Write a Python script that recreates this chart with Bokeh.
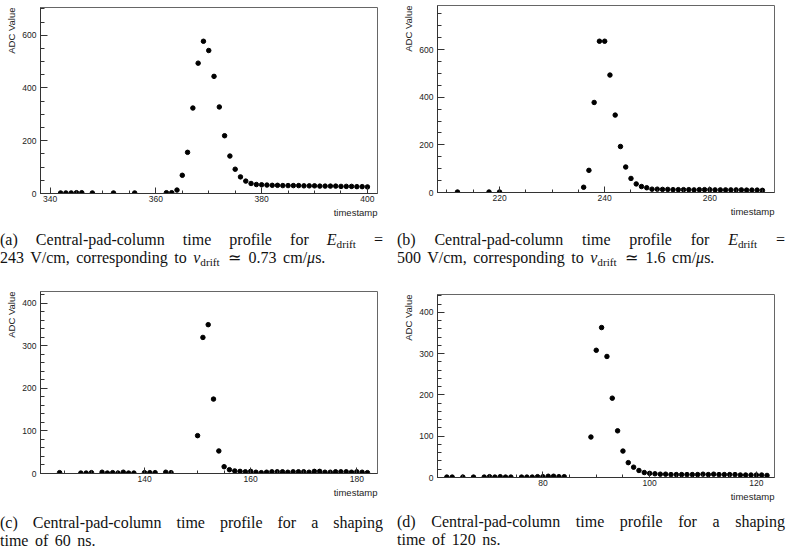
from bokeh.plotting import figure
from bokeh.models import Range1d, SingleIntervalTicker, Div, Title
from bokeh.layouts import column, row
from bokeh.embed import file_html
from bokeh.resources import INLINE

# ---------------- data ----------------
# (a) E_drift = 243 V/cm
a_time = [342, 343, 344, 345, 346, 348, 352, 356, 362, 363, 364, 365, 366, 367, 368,
          369, 370, 371, 372, 373, 374, 375, 376, 377, 378, 379, 380, 381, 382, 383,
          384, 385, 386, 387, 388, 389, 390, 391, 392, 393, 394, 395, 396, 397, 398,
          399, 400]
a_adc = [2, 2, 2, 3, 3, 2, 2, 2, 3, 3, 13, 69, 156, 324, 494,
         577, 542, 444, 328, 219, 142, 92, 63, 47, 38, 34, 33, 32, 31, 31,
         30, 30, 30, 30, 29, 29, 29, 28, 28, 28, 28, 27, 27, 27, 26,
         26, 25]

# (b) E_drift = 500 V/cm
b_time = [212, 218, 220, 236, 237, 238, 239, 240, 241, 242, 243, 244, 245, 246, 247,
          248, 249, 250, 251, 252, 253, 254, 255, 256, 257, 258, 259, 260, 261, 262,
          263, 264, 265, 266, 267, 268, 269, 270]
b_adc = [2, 2, 2, 22, 93, 378, 635, 635, 493, 325, 193, 107, 59, 36, 25,
         20, 14, 14, 13, 13, 12, 12, 12, 12, 11, 12, 12, 12, 11, 11,
         11, 11, 11, 11, 10, 10, 10, 9]

# (c) shaping time 60 ns
c_time = [124, 128, 129, 130, 132, 133, 134, 135, 136, 137, 138, 140, 141, 142, 144,
          145, 150, 151, 152, 153, 154, 155, 156, 157, 158, 159, 160, 161, 162, 163,
          164, 165, 166, 167, 168, 169, 170, 171, 172, 173, 174, 175, 176, 177, 178,
          179, 180, 181, 182]
c_adc = [2, 1, 1, 2, 3, 1, 2, 1, 3, 1, 1, 2, 2, 2, 3,
         2, 89, 320, 350, 175, 53, 16, 9, 6, 5, 4, 5, 3, 2, 3,
         4, 4, 4, 3, 4, 4, 4, 3, 5, 5, 3, 3, 4, 4, 4,
         3, 4, 3, 2]

# (d) shaping time 120 ns
d_time = [62, 63, 65, 67, 69, 70, 71, 72, 73, 74, 76, 77, 78, 79, 80,
          81, 82, 83, 84, 89, 90, 91, 92, 93, 94, 95, 96, 97, 98, 99,
          100, 101, 102, 103, 104, 105, 106, 107, 108, 109, 110, 111, 112, 113, 114,
          115, 116, 117, 118, 119, 120, 121, 122]
d_adc = [1, 1, 1, 1, 1, 2, 1, 2, 1, 1, 1, 1, 1, 2, 2,
         3, 3, 2, 2, 98, 308, 363, 293, 192, 113, 64, 36, 25, 17, 12,
         10, 9, 8, 8, 7, 7, 7, 7, 7, 7, 8, 7, 8, 7, 7,
         7, 7, 6, 6, 6, 6, 6, 5]

x_title = "timestamp"
y_title = "ADC Value"

SIM = "&ensp;&#8771;&ensp;"
cap_a1 = "(a) Central-pad-column time profile for <i>E</i><span class='sb'>drift</span> ="
cap_a2 = "243 V/cm, corresponding to <i>v</i><span class='sb'>drift</span>" + SIM + "0.73 cm/<i>&mu;</i>s."
cap_b1 = "(b) Central-pad-column time profile for <i>E</i><span class='sb'>drift</span> ="
cap_b2 = "500 V/cm, corresponding to <i>v</i><span class='sb'>drift</span>" + SIM + "1.6 cm/<i>&mu;</i>s."
cap_c1 = "(c) Central-pad-column time profile for a shaping"
cap_c2 = "time of 60 ns."
cap_d1 = "(d) Central-pad-column time profile for a shaping"
cap_d2 = "time of 120 ns."

TXT = "#222222"


def make_fig(xs, ys, xr, yr, xint, yint, ynminor, bl, br, bt, bb, fw, fh):
    p = figure(width=bl + fw + br, height=bt + fh + bb,
               x_range=Range1d(*xr), y_range=Range1d(*yr),
               output_backend="svg", toolbar_location=None,
               min_border_left=bl, min_border_right=br,
               min_border_top=bt, min_border_bottom=bb)
    p.xgrid.visible = False
    p.ygrid.visible = False
    p.outline_line_color = "#666666"
    p.outline_line_width = 1
    p.background_fill_color = "white"
    p.border_fill_color = "white"
    p.xaxis.ticker = SingleIntervalTicker(interval=xint, num_minor_ticks=4)
    p.yaxis.ticker = SingleIntervalTicker(interval=yint, num_minor_ticks=ynminor)
    for ax in (p.xaxis[0], p.yaxis[0]):
        ax.axis_line_color = "#333333"
        ax.major_tick_line_color = "#333333"
        ax.minor_tick_line_color = "#333333"
        ax.major_tick_out = 0
        ax.minor_tick_out = 0
        ax.major_label_text_font = "Liberation Sans"
        ax.major_label_text_font_size = "8.5px"
        ax.major_label_text_color = TXT
    p.xaxis.major_tick_in = 6
    p.xaxis.minor_tick_in = 3
    p.yaxis.major_tick_in = 7
    p.yaxis.minor_tick_in = 4
    p.xaxis.major_label_standoff = 2
    p.yaxis.major_label_standoff = 4
    p.scatter(xs, ys, size=4.5, color="black", marker="circle")

    # ROOT-style axis titles at the far ends of the axes
    p.add_layout(Title(text=x_title, align="right", standoff=0, offset=0,
                       text_font="Liberation Sans", text_font_size="9.5px",
                       text_font_style="normal", text_color=TXT), "below")
    p.add_layout(Title(text=y_title, align="right", standoff=5, offset=0,
                       text_font="Liberation Sans", text_font_size="9.5px",
                       text_font_style="normal", text_color=TXT), "left")
    return p


def caption(l1, l2, ml, w, h, pt):
    html = (
        "<style>.sb{font-size:70%;vertical-align:-0.28em;line-height:0;}</style>"
        f"<div style=\"font-family:'Liberation Serif';font-size:16px;color:#111;"
        f"margin-left:{ml}px;width:{w}px;padding-top:{pt}px;line-height:18px;\">"
        f"<div style='text-align:justify;text-align-last:justify;white-space:normal;'>{l1}</div>"
        f"<div style='text-align:left;white-space:nowrap;word-spacing:2.5px;'>{l2}</div>"
        "</div>"
    )
    return Div(text=html, width=395, height=h, margin=(0, 0, 0, 0))


fa = make_fig(a_time, a_adc, (338.2, 401.9), (0, 705), 20, 200, 4, 40, 11, 7, 25, 344, 186)
fb = make_fig(b_time, b_adc, (208.2, 272.3), (0, 785), 20, 200, 4, 42, 10, 5, 26, 343, 187)
fc = make_fig(c_time, c_adc, (120.4, 183.9), (0, 428), 20, 100, 5, 40, 18, 16, 25, 337, 182)
fd = make_fig(d_time, d_adc, (60.25, 123.4), (0, 443), 20, 100, 5, 42, 16, 19, 25, 337, 183)

da = caption(cap_a1, cap_a2, 0, 383, 57, 13)
db = caption(cap_b1, cap_b2, 2, 388, 57, 13)
dc = caption(cap_c1, cap_c2, 0, 383, 55, 16)
dd = caption(cap_d1, cap_d2, 2, 388, 50, 11)

col1 = column(fa, da, fc, dc, spacing=0)
col2 = column(fb, db, fd, dd, spacing=0)
layout = row(col1, col2, spacing=0)

open("out.html", "w").write(file_html(layout, INLINE))
